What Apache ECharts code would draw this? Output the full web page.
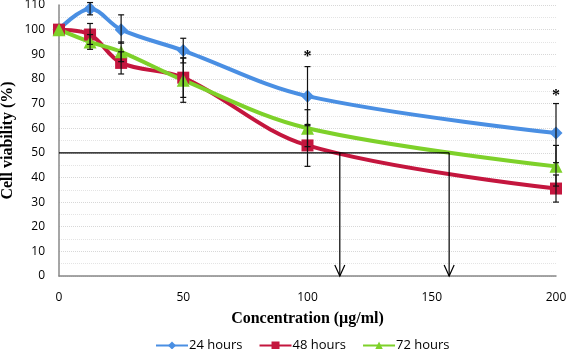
<!DOCTYPE html>
<html>
<head>
<meta charset="utf-8">
<script src="https://cdn.jsdelivr.net/npm/echarts@6/dist/echarts.min.js"></script>
<style>
  html, body { margin: 0; padding: 0; background: #fff; }
  #chart { width: 567px; height: 349px; }
</style>
</head>
<body>
<div id="chart"></div>
<script>
var conc = [0, 12.5, 25, 50, 100, 200];
var h24 = [100, 108.5, 100, 91.5, 73, 58];
var h48 = [100, 98, 86.5, 80.5, 53, 35.5];
var h72 = [100, 95, 91, 79.5, 60, 44.5];
// [x, low, high]
var err24 = [[12.5, 106, 111], [25, 94.5, 106], [50, 86.5, 96.5], [100, 61, 85], [200, 46, 70]];
var err48 = [[12.5, 94, 102.5], [25, 82, 91], [50, 72.5, 88.5], [100, 44.5, 61.5], [200, 30, 41]];
var err72 = [[12.5, 92, 98], [25, 87, 95], [50, 70.5, 88.5], [100, 52.5, 67.5], [200, 36.5, 53]];
var ic50X = [113, 157];
var ic50Level = 50;
var stars = [[100, 89], [200, 73]];

var blue = '#4A8FE3', red = '#C4163E', green = '#7ED12A';

function pairs(xs, ys) {
    return xs.map(function (x, i) { return [x, ys[i]]; });
}

function lineSeries(name, data, symbol, color, size) {
    return {
        type: 'line',
        name: name,
        data: pairs(conc, data),
        smooth: 0.35,
        symbol: symbol,
        symbolSize: size,
        color: color,
        lineStyle: { width: 4, color: color },
        itemStyle: { color: color },
        z: 3
    };
}

function errorSeries(data) {
    return {
        type: 'custom',
        data: data,
        z: 5,
        silent: true,
        renderItem: function (params, api) {
            var x = api.value(0);
            var top = api.coord([x, api.value(2)]);
            var bot = api.coord([x, api.value(1)]);
            var st = { stroke: '#111', lineWidth: 1.2 };
            return {
                type: 'group',
                children: [
                    { type: 'line', shape: { x1: top[0], y1: top[1], x2: bot[0], y2: bot[1] }, style: st },
                    { type: 'line', shape: { x1: top[0] - 3, y1: top[1], x2: top[0] + 3, y2: top[1] }, style: st },
                    { type: 'line', shape: { x1: bot[0] - 3, y1: bot[1], x2: bot[0] + 3, y2: bot[1] }, style: st }
                ]
            };
        }
    };
}

var chart = echarts.init(document.getElementById('chart'));
var option = {
    animation: false,
    backgroundColor: '#fff',
    grid: { left: 59, right: 11, top: 5, bottom: 73, outerBoundsMode: 'none' },
    xAxis: {
        type: 'value',
        min: 0, max: 200, interval: 50,
        name: 'Concentration (µg/ml)',
        nameLocation: 'middle',
        nameGap: 35,
        nameMoveOverlap: false,
        nameTextStyle: { fontFamily: 'Liberation Serif', fontWeight: 'bold', fontSize: 16, color: '#000' },
        axisLine: { lineStyle: { color: '#888', width: 1.5 } },
        axisTick: { show: false },
        axisLabel: { fontFamily: 'Open Sans', fontSize: 12, color: '#000', margin: 16 },
        splitLine: { show: false }
    },
    yAxis: {
        type: 'value',
        min: 0, max: 110, interval: 10,
        name: 'Cell viability (%)',
        nameLocation: 'middle',
        nameGap: 43,
        nameMoveOverlap: false,
        nameTextStyle: { fontFamily: 'Liberation Serif', fontWeight: 'bold', fontSize: 16, color: '#000' },
        axisLine: { show: true, lineStyle: { color: '#888', width: 1.5 } },
        axisTick: { show: false },
        axisLabel: { fontFamily: 'Open Sans', fontSize: 12, color: '#000', margin: 14 },
        splitLine: { show: true, lineStyle: { type: 'dotted', color: '#d8d8d8' } },
        minorTick: { show: false, splitNumber: 2 },
        minorSplitLine: { show: true, lineStyle: { type: 'dotted', color: '#e4e4e4' } }
    },
    legend: {
        top: 334,
        left: 150,
        itemWidth: 32,
        itemHeight: 10,
        itemGap: 16,
        textStyle: { fontFamily: 'Open Sans', fontSize: 13, color: '#000', padding: [0, 0, 0, -4] },
        data: ['24 hours', '48 hours', '72 hours']
    },
    series: [
        lineSeries('24 hours', h24, 'diamond', blue, 13),
        lineSeries('48 hours', h48, 'rect', red, 12),
        lineSeries('72 hours', h72, 'triangle', green, 13),
        errorSeries(err24),
        errorSeries(err48),
        errorSeries(err72),
        {
            type: 'custom',
            data: ic50X.map(function (x) { return [x, ic50Level]; }),
            z: 4,
            silent: true,
            renderItem: function (params, api) {
                var x = api.value(0);
                var p = api.coord([x, api.value(1)]);
                var b = api.coord([x, 0]);
                var st = { stroke: '#000', lineWidth: 1.2, fill: null };
                var kids = [
                    { type: 'line', shape: { x1: p[0], y1: p[1], x2: b[0], y2: b[1] }, style: st },
                    { type: 'polyline', shape: { points: [[b[0] - 5, b[1] - 11], [b[0], b[1]], [b[0] + 5, b[1] - 11]] }, style: st }
                ];
                if (params.dataIndex === ic50X.length - 1) {
                    var o = api.coord([0, api.value(1)]);
                    kids.push({ type: 'line', shape: { x1: o[0], y1: o[1], x2: p[0], y2: p[1] }, style: st });
                }
                return { type: 'group', children: kids };
            }
        },
        {
            type: 'custom',
            data: stars,
            z: 6,
            silent: true,
            renderItem: function (params, api) {
                var p = api.coord([api.value(0), api.value(1)]);
                return {
                    type: 'text',
                    x: p[0], y: p[1],
                    style: { text: '*', font: 'bold 16px Liberation Serif', fill: '#000', align: 'center', verticalAlign: 'middle' }
                };
            }
        }
    ]
};
chart.setOption(option);
</script>
</body>
</html>
